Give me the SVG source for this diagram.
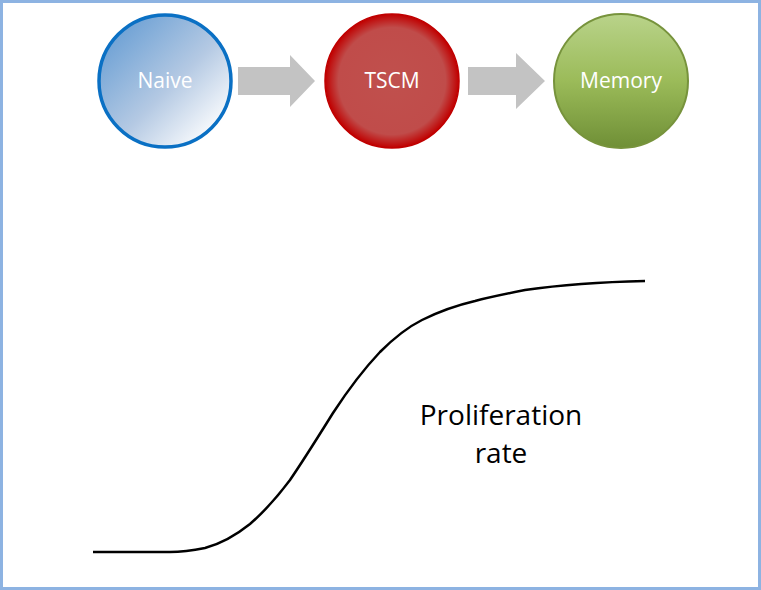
<svg xmlns="http://www.w3.org/2000/svg" width="761" height="590" viewBox="0 0 761 590">
<defs>
<linearGradient id="gNaive" x1="0.1" y1="0.1" x2="0.9" y2="0.9">
<stop offset="0" stop-color="#6a9fd4"/>
<stop offset="0.55" stop-color="#b4c9e3"/>
<stop offset="1" stop-color="#ffffff"/>
</linearGradient>
<radialGradient id="gTscm" cx="0.5" cy="0.5" r="0.5">
<stop offset="0" stop-color="#c0504d"/>
<stop offset="0.8" stop-color="#c04c4a"/>
<stop offset="1" stop-color="#c00000"/>
</radialGradient>
<linearGradient id="gMem" x1="0" y1="0" x2="0" y2="1">
<stop offset="0" stop-color="#b9d38a"/>
<stop offset="0.5" stop-color="#9bbb59"/>
<stop offset="1" stop-color="#6f8f36"/>
</linearGradient>
<style>
.lbl{font-family:"Open Sans","Liberation Sans",sans-serif;font-size:21px;fill:#ffffff;text-anchor:middle}
.big{font-family:"Open Sans","Liberation Sans",sans-serif;font-size:28px;fill:#000000;text-anchor:middle}
.arr{fill:#c3c3c3}
</style>
</defs>
<rect x="1.5" y="1.5" width="758" height="587" fill="#ffffff" stroke="#8db3e2" stroke-width="3"/>
<g id="naive">
<circle cx="165" cy="81" r="66" fill="url(#gNaive)" stroke="#0a70c4" stroke-width="3.5"/>
<text class="lbl" x="165" y="88">Naive</text>
</g>
<g id="tscm">
<circle cx="392" cy="81" r="67" fill="url(#gTscm)" stroke="#c00000" stroke-width="1.5"/>
<text class="lbl" x="392" y="88">TSCM</text>
</g>
<g id="memory">
<circle cx="621" cy="81" r="67" fill="url(#gMem)" stroke="#77933c" stroke-width="2"/>
<text class="lbl" x="621" y="88">Memory</text>
</g>
<g id="connectors">
<polygon class="arr" points="238,67 290,67 290,55 315,81 290,107 290,95 238,95"/>
<polygon class="arr" points="468,67 516,67 516,53 545,81 516,109 516,95 468,95"/>
</g>
<g id="curve">
<path d="M93,552 L170,552 C185,552 195,550 205,548 C220,544 235,536 250,524 C265,511 278,496 290,480 C305,458 318,437 333,413 C348,390 362,371 380,352 C395,337 408,327 422,320 C440,311 458,305 475,301 C490,297 505,294 525,290 C560,285 600,282 645,281" fill="none" stroke="#000000" stroke-width="2.5"/>
</g>
<g id="label">
<text class="big" x="501" y="425">Proliferation</text>
<text class="big" x="501" y="463">rate</text>
</g>
</svg>
